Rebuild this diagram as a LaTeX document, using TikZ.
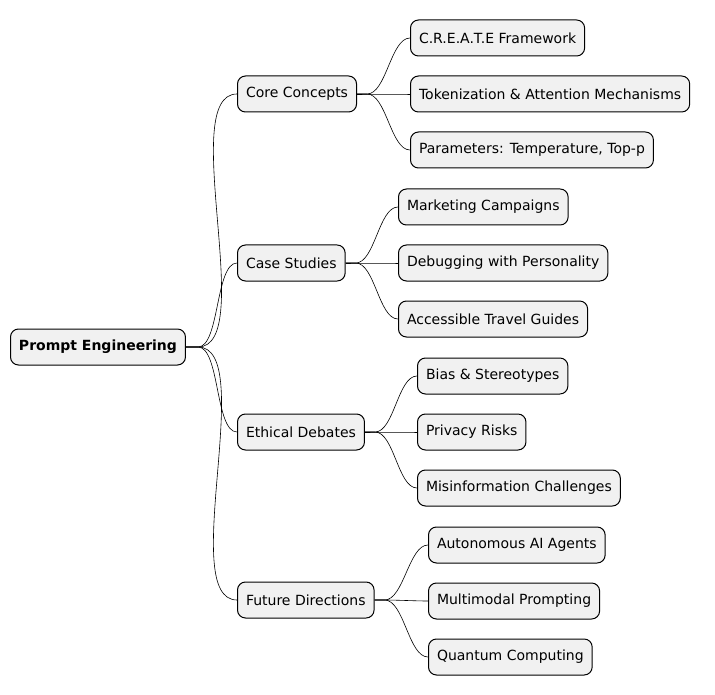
\documentclass[tikz,border=0pt]{standalone}
\usepackage{fontspec}
\setmainfont{DejaVu Sans}
\usetikzlibrary{positioning}
\definecolor{boxfill}{HTML}{F1F1F1}
\tikzset{
  topic/.style={draw=black,fill=boxfill,rounded corners=8pt,line width=1pt,minimum height=36pt,
    inner xsep=8.5pt,anchor=west,font=\fontsize{14pt}{17pt}\selectfont},
  branch/.style={draw=black,line width=0.6pt}
}
\begin{document}
\begin{tikzpicture}[x=1pt,y=-1pt]
\useasboundingbox (0,0) rectangle (715,695);
\node[topic,font=\fontsize{14pt}{17pt}\selectfont\bfseries] (root) at (10,347) {Prompt Engineering};

\node[topic] (core) at (237,94) {Core Concepts};
\node[topic] (cases) at (237,263) {Case Studies};
\node[topic] (ethics) at (237,432) {Ethical Debates};
\node[topic] (future) at (237,600) {Future Directions};

\node[topic] (create) at (410,38) {C.R.E.A.T.E Framework};
\node[topic] (token) at (410,94) {Tokenization \& Attention Mechanisms};
\node[topic] (params) at (410,150) {Parameters: Temperature, Top-p};

\node[topic] (market) at (398,207) {Marketing Campaigns};
\node[topic] (debug) at (398,263) {Debugging with Personality};
\node[topic] (travel) at (398,319) {Accessible Travel Guides};

\node[topic] (bias) at (417,376) {Bias \& Stereotypes};
\node[topic] (privacy) at (417,432) {Privacy Risks};
\node[topic] (misinfo) at (417,488) {Misinformation Challenges};

\node[topic] (agents) at (428,545) {Autonomous AI Agents};
\node[topic] (multi) at (428,601) {Multimodal Prompting};
\node[topic] (quantum) at (428,657) {Quantum Computing};

% connectors
\foreach \child in {core,cases,ethics,future}
  \draw[branch] (root.east) -- ++(12,0) to[out=0,in=180,looseness=0.6] (\child.west);
\foreach \parent/\kids in {core/{create,token,params},cases/{market,debug,travel},
    ethics/{bias,privacy,misinfo},future/{agents,multi,quantum}}
  \foreach \child in \kids
    \draw[branch] (\parent.east) -- ++(10,0) to[out=0,in=180,looseness=0.7] (\child.west);
\end{tikzpicture}
\end{document}
